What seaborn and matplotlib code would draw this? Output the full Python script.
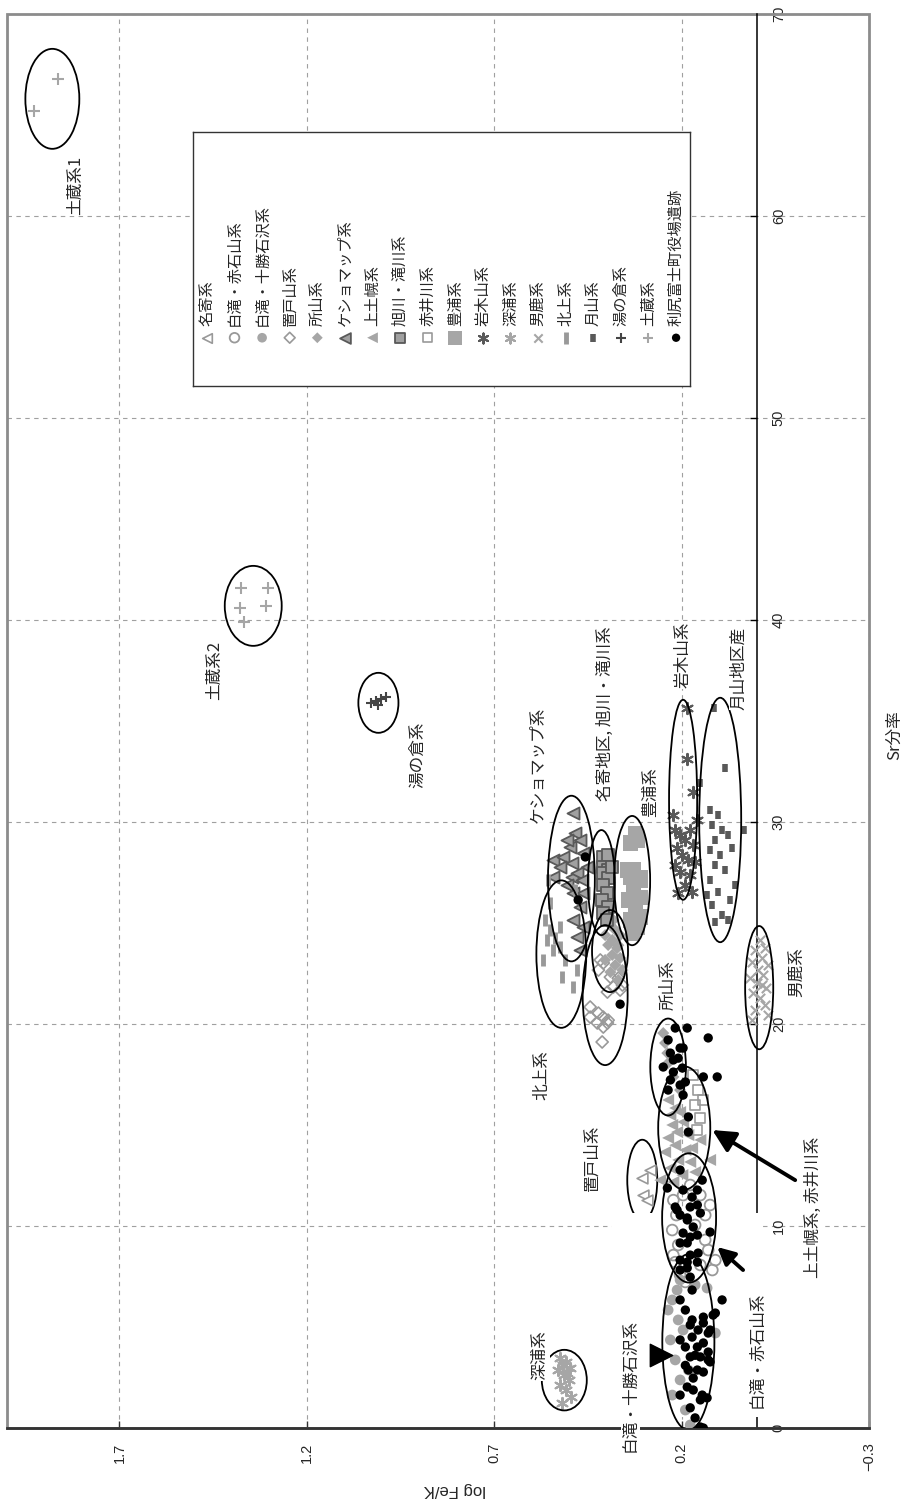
import numpy as np
import pandas as pd
import seaborn as sns
import matplotlib.pyplot as plt
from matplotlib.patches import Ellipse, Rectangle

# ---- data (log Fe/K, Sr分率) ----
nayoro_lf = [0.305, 0.284, 0.302, 0.292]
nayoro_sr = [12.37, 12.77, 11.53, 11.28]

akaishi_lf = [0.222, 0.214, 0.225, 0.209, 0.217, 0.204, 0.190, 0.150, 0.129, 0.118,
              0.110, 0.164, 0.137, 0.222, 0.196, 0.177, 0.150, 0.124, 0.137]
akaishi_sr = [11.28, 10.54, 9.80, 9.06, 8.21, 7.57, 7.23, 8.07, 8.81, 7.82,
              8.31, 10.05, 10.54, 8.56, 11.53, 12.03, 11.53, 11.04, 9.31]

tokachi_lf = [0.204, 0.225, 0.209, 0.230, 0.217, 0.204, 0.225, 0.190, 0.177, 0.236,
              0.164, 0.132, 0.212, 0.196, 0.182, 0.110]
tokachi_sr = [7.33, 6.34, 5.35, 4.36, 3.37, 2.38, 1.63, 0.89, 0.15, 5.84,
              7.08, 6.93, 6.83, 4.85, 2.87, 4.70]

oketo_lf = [0.444, 0.422, 0.409, 0.396, 0.425, 0.409, 0.398, 0.444, 0.412, 0.398,
            0.382, 0.364, 0.422, 0.409, 0.390, 0.369, 0.358, 0.417]
oketo_sr = [20.84, 20.54, 20.34, 20.19, 20.05, 19.85, 20.05, 20.34, 19.11, 21.58,
            21.83, 21.68, 22.67, 23.02, 22.32, 22.27, 21.93, 23.17]

tokoro_lf = [0.249, 0.244, 0.238, 0.236, 0.222, 0.204, 0.390, 0.377, 0.404, 0.385, 0.364,
             0.396, 0.372, 0.385, 0.364, 0.404, 0.377, 0.358, 0.390, 0.369, 0.382, 0.369]
tokoro_sr = [19.55, 19.06, 18.56, 18.07, 17.38, 16.73, 24.90, 24.65, 24.40, 24.16, 24.40,
             23.91, 23.76, 23.42, 23.27, 23.17, 22.92, 22.67, 22.57, 22.18, 25.15, 23.90]

kesho_lf = [0.489, 0.542, 0.516, 0.497, 0.484, 0.470, 0.505, 0.492, 0.462, 0.452, 0.542, 0.524,
            0.492, 0.478, 0.465, 0.505, 0.489, 0.462, 0.470, 0.489, 0.462, 0.478, 0.470]
kesho_sr = [30.44, 28.12, 28.27, 28.76, 29.46, 29.11, 29.11, 27.97, 28.47, 27.77, 27.27, 27.77,
            27.27, 27.47, 27.13, 26.88, 26.48, 26.48, 25.79, 25.15, 24.80, 24.31, 23.66]

kamishi_lf = [0.236, 0.217, 0.230, 0.204, 0.225, 0.196, 0.212, 0.236, 0.182, 0.217, 0.190,
              0.244, 0.172, 0.209, 0.177, 0.230, 0.198, 0.164, 0.150, 0.124, 0.257, 0.222]
kamishi_sr = [16.24, 15.84, 15.49, 15.64, 15.00, 15.15, 14.65, 14.36, 14.50, 14.00, 13.76,
              13.66, 13.86, 13.27, 13.17, 12.87, 12.52, 12.67, 14.26, 13.27, 12.27, 12.18]

asahi_lf = [0.409, 0.396, 0.409, 0.396, 0.404, 0.409, 0.396, 0.409, 0.398, 0.412,
            0.396, 0.409, 0.398, 0.385]
asahi_sr = [28.27, 28.36, 27.77, 27.62, 27.22, 27.47, 27.22, 26.88, 26.48, 26.14,
            25.79, 25.49, 25.15, 27.77]

akaigawa_lf = [0.169, 0.156, 0.164, 0.150, 0.158, 0.142]
akaigawa_sr = [17.47, 16.73, 15.99, 15.35, 14.75, 16.24]

toyoura_lf = [0.324, 0.337, 0.318, 0.329, 0.310, 0.345, 0.337, 0.310, 0.329, 0.310,
              0.342, 0.324, 0.337, 0.318, 0.332, 0.310]
toyoura_sr = [29.45, 28.96, 29.11, 27.62, 27.27, 27.62, 27.27, 27.13, 26.63, 26.28,
              26.14, 25.79, 25.15, 24.80, 24.50, 25.30]

iwaki_lf = [0.185, 0.185, 0.169, 0.217, 0.204, 0.177, 0.190, 0.212, 0.169, 0.198,
            0.182, 0.217, 0.164, 0.204, 0.177, 0.190, 0.209, 0.172, 0.222, 0.158]
iwaki_sr = [35.64, 33.12, 31.48, 29.60, 29.35, 29.60, 29.11, 28.71, 28.86, 28.37,
            28.12, 27.87, 28.02, 27.52, 27.37, 26.88, 26.48, 26.53, 30.35, 30.10]

fukaura_lf = [0.524, 0.508, 0.497, 0.529, 0.513, 0.500, 0.524, 0.508, 0.494, 0.518, 0.505, 0.516]
fukaura_sr = [3.47, 3.27, 2.97, 2.87, 2.62, 2.38, 2.13, 1.88, 1.53, 1.24, 2.72, 3.12]

oga_lf = [-0.010, -0.023, 0.004, -0.015, 0.012, -0.031, -0.004, -0.018, 0.017,
          -0.002, -0.026, 0.009, -0.010, -0.023, 0.004, 0.012, -0.031, -0.015]
oga_sr = [24.16, 23.76, 23.66, 23.27, 23.07, 22.92, 22.67, 22.42, 22.27,
          22.03, 21.78, 21.53, 21.28, 20.94, 20.69, 20.19, 20.44, 21.93]

kitakami_lf = [0.564, 0.550, 0.558, 0.537, 0.524, 0.542, 0.569, 0.518, 0.489, 0.524,
               0.550, 0.510, 0.478, 0.484, 0.556]
kitakami_sr = [25.15, 24.65, 24.16, 24.26, 23.81, 23.66, 23.17, 22.32, 21.83, 24.80,
               26.00, 23.17, 22.67, 26.63, 27.13]

gassan_lf = [0.113, 0.084, 0.150, 0.033, 0.124, 0.102, 0.118, 0.092, 0.110, 0.076, 0.124, 0.097,
             0.065, 0.110, 0.084, 0.124, 0.057, 0.102, 0.070, 0.118, 0.092, 0.110, 0.076, 0.132]
gassan_sr = [35.64, 32.67, 31.93, 29.60, 30.60, 30.35, 29.85, 29.60, 29.11, 29.35, 28.61, 28.37,
             28.71, 27.87, 27.62, 27.13, 26.88, 26.53, 26.14, 25.89, 25.40, 25.05, 25.15, 26.38]

yunokura_lf = [1.028, 1.015, 1.001, 0.988, 1.009]
yunokura_sr = [35.9, 36.0, 36.1, 36.2, 35.8]

dozo_lf = [1.865, 1.929, 1.375, 1.303, 1.377, 1.308, 1.367]
dozo_sr = [66.8, 65.2, 41.6, 41.6, 40.6, 40.7, 39.9]

rishiri_lf = [0.217, 0.185, 0.129, 0.236, 0.204, 0.196, 0.230, 0.222, 0.209, 0.249, 0.198,
              0.222, 0.230, 0.204, 0.190, 0.142, 0.105, 0.236, 0.196, 0.182, 0.182,
              0.204, 0.145, 0.238,
              0.212, 0.204, 0.177, 0.158, 0.150, 0.185, 0.169, 0.196, 0.177, 0.158, 0.124,
              0.204, 0.185, 0.177, 0.156, 0.204, 0.185, 0.158, 0.204, 0.185, 0.177, 0.217,
              0.196, 0.172, 0.158, 0.185,
              0.172, 0.092, 0.110, 0.172, 0.142, 0.156, 0.172, 0.129, 0.190, 0.158, 0.142,
              0.177, 0.150, 0.129, 0.182, 0.158, 0.185, 0.169, 0.145, 0.132, 0.142, 0.116,
              0.124, 0.129, 0.124, 0.142, 0.150, 0.150, 0.142, 0.204, 0.190, 0.177, 0.204,
              0.164, 0.190, 0.169, 0.204, 0.177, 0.164,
              0.457, 0.476, 0.364]
rishiri_sr = [19.80, 19.80, 19.31, 19.21, 18.81, 18.81, 18.56, 18.22, 18.31, 17.87, 17.82,
              17.62, 17.23, 16.98, 17.13, 17.38, 17.38, 16.73, 16.48, 15.40, 14.65,
              12.77, 12.27, 11.88,
              10.79, 10.54, 10.94, 11.04, 10.64, 10.30, 9.95, 9.65, 9.45, 9.55, 9.70,
              9.16, 9.16, 8.56, 8.66, 8.31, 8.21, 8.21, 7.82, 7.92, 7.47, 10.94,
              11.78, 11.43, 11.78, 10.40,
              6.83, 6.34, 5.69, 5.35, 5.20, 4.85, 4.50, 4.70, 4.01, 4.01, 4.21,
              3.52, 3.52, 3.37, 2.87, 2.87, 2.03, 1.88, 1.63, 1.49, 5.49, 5.59,
              4.85, 3.76, 3.27, 2.77, 1.39, 0.05, 0.00, 6.34, 5.84, 5.10, 4.36,
              3.60, 3.10, 2.47, 1.63, 1.00, 0.50,
              28.27, 26.14, 20.98]

series_names = ['名寄系', '白滝・赤石山系', '白滝・十勝石沢系', '置戸山系', '所山系', 'ケショマップ系',
                '上土幌系', '旭川・滝川系', '赤井川系', '豊浦系', '岩木山系', '深浦系', '男鹿系',
                '北上系', '月山系', '湯の倉系', '土蔵系', '利尻富士町役場遺跡']
series_lf = [nayoro_lf, akaishi_lf, tokachi_lf, oketo_lf, tokoro_lf, kesho_lf, kamishi_lf,
             asahi_lf, akaigawa_lf, toyoura_lf, iwaki_lf, fukaura_lf, oga_lf, kitakami_lf,
             gassan_lf, yunokura_lf, dozo_lf, rishiri_lf]
series_sr = [nayoro_sr, akaishi_sr, tokachi_sr, oketo_sr, tokoro_sr, kesho_sr, kamishi_sr,
             asahi_sr, akaigawa_sr, toyoura_sr, iwaki_sr, fukaura_sr, oga_sr, kitakami_sr,
             gassan_sr, yunokura_sr, dozo_sr, rishiri_sr]

# group ellipses (centre log Fe/K, centre Sr, width, height)
ell_lf = [1.879, 1.343, 1.009, 0.494, 0.521, 0.414, 0.332, 0.391, 0.404, 0.196, 0.097,
          -0.007, 0.236, 0.193, 0.180, 0.182, 0.513]
ell_sr = [65.8, 40.7, 35.9, 27.2, 23.46, 27.0, 27.1, 23.61, 21.43, 31.1, 30.1,
          21.8, 17.87, 14.85, 10.4, 4.25, 2.37]
ell_w = [0.144, 0.152, 0.107, 0.125, 0.133, 0.072, 0.096, 0.096, 0.12, 0.075, 0.112,
         0.075, 0.095, 0.139, 0.144, 0.139, 0.12]
ell_h = [4.95, 3.96, 2.97, 8.2, 7.3, 5.2, 6.4, 4.06, 6.93, 9.9, 12.1,
         6.1, 4.8, 6.1, 6.4, 8.7, 3.0]
# small 名寄 ellipse, partly hidden
nayoro_ell = (0.305, 12.27, 0.08, 4.0)

group_labels = ['土蔵系1', '土蔵系2', '湯の倉系', 'ケショマップ系', '名寄地区, 旭川・滝川系', '豊浦系',
                '岩木山系', '月山地区産', '男鹿系', '所山系', '北上系', '置戸山系',
                '上土幌系, 赤井川系', '白滝・赤石山系', '白滝・十勝石沢系', '深浦系']
label_lf = [1.817, 1.446, 0.905, 0.582, 0.404, 0.284, 0.196, 0.049, -0.108, 0.236, 0.572,
            0.438, -0.151, 0.0, 0.337, 0.577]
label_sr = [61.53, 37.52, 33.31, 32.82, 35.35, 31.48, 38.26, 37.62, 22.57, 21.93, 17.47,
            13.36, 10.94, 3.86, 2.13, 3.61]

x_ticks = [-0.3, 0.2, 0.7, 1.2, 1.7]
x_ticklabels = ['−0.3', '0.2', '0.7', '1.2', '1.7']
y_ticks = [0, 10, 20, 30, 40, 50, 60, 70]

# marker styles (chart is drawn turned by 90 degrees, so triangles point left)
G = '#a6a6a6'
D = '#595959'
styles = {
    '名寄系': dict(marker='<', s=60, facecolor='white', edgecolor='#999999', linewidth=1.2),
    '白滝・赤石山系': dict(marker='o', s=60, facecolor='none', edgecolor='#999999', linewidth=1.3),
    '白滝・十勝石沢系': dict(marker='o', s=60, facecolor=G, edgecolor='none', linewidth=0),
    '置戸山系': dict(marker='D', s=38, facecolor='none', edgecolor='#999999', linewidth=1.2),
    '所山系': dict(marker='D', s=38, facecolor=G, edgecolor='none', linewidth=0),
    'ケショマップ系': dict(marker='<', s=75, facecolor='#a0a0a0', edgecolor=D, linewidth=1.3),
    '上土幌系': dict(marker='<', s=75, facecolor=G, edgecolor='none', linewidth=0),
    '旭川・滝川系': dict(marker='s', s=65, facecolor='#a0a0a0', edgecolor=D, linewidth=1.3),
    '赤井川系': dict(marker='s', s=55, facecolor='none', edgecolor='#999999', linewidth=1.2),
    '豊浦系': dict(marker='s', s=120, facecolor=G, edgecolor='none', linewidth=0),
    '岩木山系': dict(marker=(6, 2, 0), s=65, color=D, linewidth=1.5),
    '深浦系': dict(marker=(6, 2, 0), s=65, color=G, linewidth=1.5),
    '男鹿系': dict(marker='x', s=45, color=G, linewidth=1.5),
    '北上系': dict(marker='|', s=80, color='#999999', linewidth=3.5),
    '月山系': dict(marker='|', s=40, color=D, linewidth=4),
    '湯の倉系': dict(marker='+', s=60, color='#444444', linewidth=1.5),
    '土蔵系': dict(marker='+', s=75, color=G, linewidth=1.5),
    '利尻富士町役場遺跡': dict(marker='o', s=45, facecolor='black', edgecolor='none', linewidth=0),
}

rows = []
for name, lfs, srs in zip(series_names, series_lf, series_sr):
    for a, b in zip(lfs, srs):
        rows.append((name, a, b))
df = pd.DataFrame(rows, columns=['系', 'logFeK', 'Sr'])

sns.set_theme(style='white')
plt.rcParams['font.family'] = ['Noto Sans CJK JP', 'DejaVu Sans']
plt.rcParams['axes.unicode_minus'] = False

fig = plt.figure(figsize=(9.08, 15.06), dpi=100)
ax = fig.add_axes([7 / 908, 78 / 1506, 862 / 908, 1414 / 1506])
ax.set_facecolor('white')

for name in series_names:
    sub = df[df['系'] == name]
    sns.scatterplot(data=sub, x='logFeK', y='Sr', ax=ax, legend=False, zorder=3, **styles[name])

ax.set_xlim(2.0, -0.3)
ax.set_ylim(0, 70)
ax.set_xlabel('')
ax.set_ylabel('')

# grid
ax.set_axisbelow(True)
ax.grid(True, color='#a0a0a0', linestyle=(0, (4, 4)), linewidth=0.8)

# frame + axes lines
for side in ['left', 'top']:
    ax.spines[side].set_visible(False)
ax.add_patch(Rectangle((0, 0), 1, 1, transform=ax.transAxes, fill=False,
                       edgecolor='#8c8c8c', linewidth=2, zorder=2.4, clip_on=False))
ax.spines['bottom'].set_color('#333333')
ax.spines['bottom'].set_linewidth(2)
ax.spines['right'].set_position(('data', 0))
ax.spines['right'].set_color('black')
ax.spines['right'].set_linewidth(1.1)
ax.yaxis.tick_right()

ax.set_xticks(x_ticks)
ax.set_xticklabels(x_ticklabels, rotation=90, fontsize=10.5, family='Liberation Sans')
ax.set_yticks(y_ticks)
ax.set_yticklabels([str(v) for v in y_ticks], rotation=90, fontsize=10.5, family='Liberation Sans')
ax.tick_params(axis='x', direction='in', length=5, width=1, pad=10.5, bottom=True, color='#333333')
ax.tick_params(axis='y', direction='in', length=5, width=1, pad=11, right=True, left=False, color='black')
for lbl in ax.get_yticklabels():
    lbl.set_va('center')

# white patch hiding part of the 名寄 ellipse and Sr axis line
ax.add_patch(Rectangle((-0.012, 0.54), 0.397, 10.1, facecolor='white', edgecolor='none', zorder=2.8))
cx, cy, w, h = nayoro_ell
ax.add_patch(Ellipse((cx, cy), w, h, fill=False, edgecolor='black', linewidth=1.3, zorder=2.7))

for cx, cy, w, h in zip(ell_lf, ell_sr, ell_w, ell_h):
    ax.add_patch(Ellipse((cx, cy), w, h, fill=False, edgecolor='black', linewidth=1.3, zorder=4))

for txt, a, b in zip(group_labels, label_lf, label_sr):
    ax.text(a, b, txt, rotation=90, ha='center', va='center', fontsize=12, zorder=6,
            clip_on=False, bbox=dict(facecolor='white', edgecolor='none', pad=0.6))

# arrows
ax.annotate('', xy=(0.118, 14.75), xytext=(-0.103, 12.27), zorder=6,
            arrowprops=dict(arrowstyle='-|>', color='black', lw=2.8, mutation_scale=34,
                            shrinkA=0, shrinkB=0))
ax.annotate('', xy=(0.105, 8.96), xytext=(0.036, 7.82), zorder=6,
            arrowprops=dict(arrowstyle='-|>', color='black', lw=2.8, mutation_scale=26,
                            shrinkA=0, shrinkB=0))
ax.scatter([0.254], [3.61], marker='>', s=260, color='black', zorder=6)

# axis titles (turned with the chart)
fig.text(895 / 908, 1 - 735 / 1506, 'Sr分率', rotation=90, ha='center', va='center', fontsize=12)
fig.text(455 / 908, 1 - 1490 / 1506, 'log Fe/K', rotation=180, ha='center', va='center',
         fontsize=12, family='Liberation Sans')

# legend box drawn by hand so the entries can be turned
lax = fig.add_axes([193 / 908, 1 - 386 / 1506, 497 / 908, 254 / 1506])
lax.set_xlim(0, 1)
lax.set_ylim(0, 1)
lax.set_xticks([])
lax.set_yticks([])
lax.set_facecolor('white')
for sp in lax.spines.values():
    sp.set_color('#333333')
    sp.set_linewidth(1)
pos = np.linspace(0.028, 0.972, len(series_names))
for xp, name in zip(pos, series_names):
    st = dict(styles[name])
    st['s'] = st['s'] * 0.8
    lax.scatter([xp], [0.19], **st)
    lax.text(xp, 0.235, name, rotation=90, ha='center', va='bottom', fontsize=11)

fig.savefig('out.png', dpi=100)
